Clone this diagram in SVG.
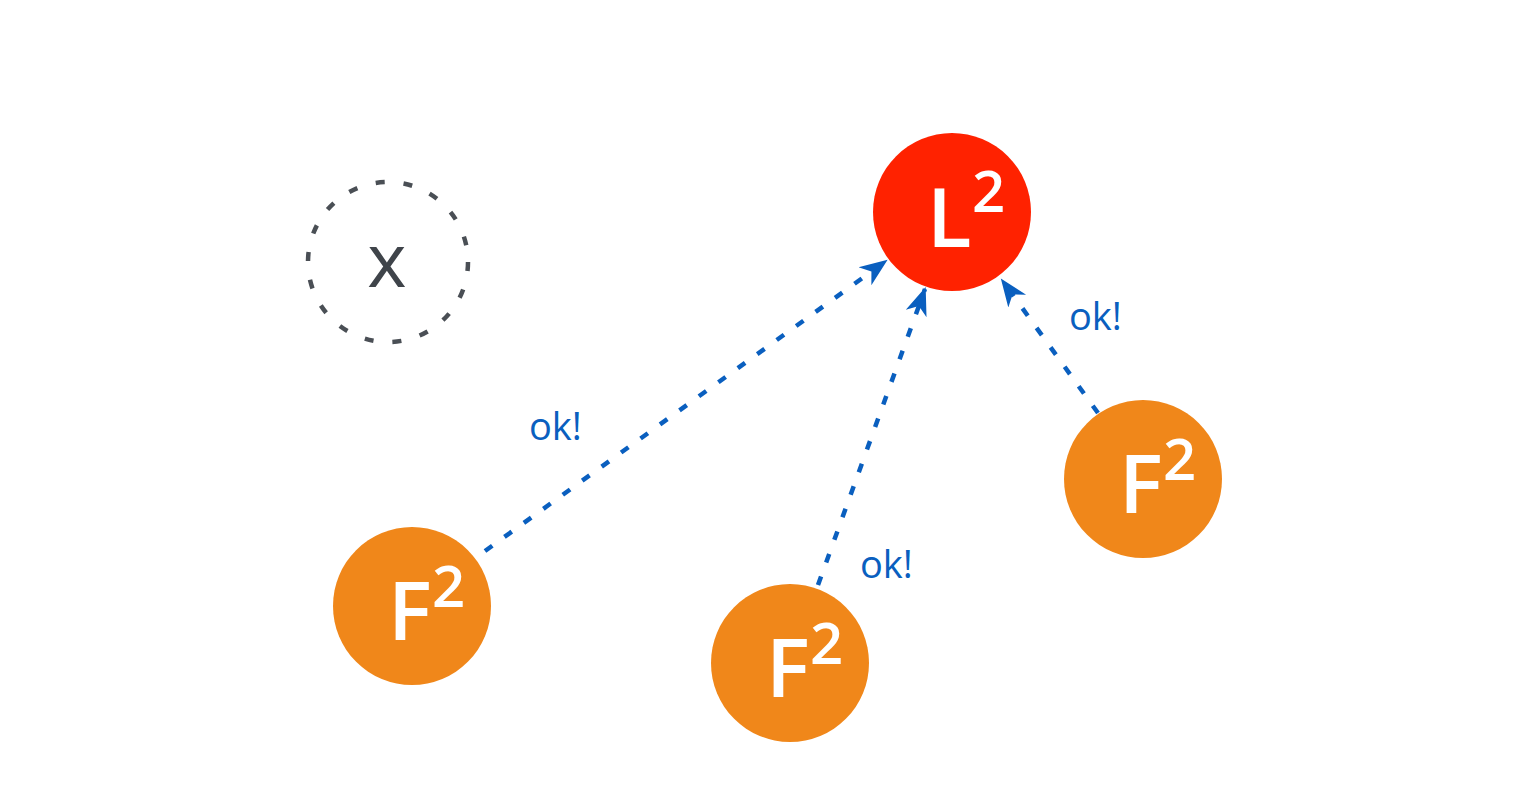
<svg xmlns="http://www.w3.org/2000/svg" width="1526" height="812" viewBox="0 0 1526 812">
<style>
.big{font-family:"Open Sans","Liberation Sans",sans-serif;fill:#fff;font-size:82px;font-weight:600}
.sup{font-family:"Open Sans","Liberation Sans",sans-serif;fill:#fff;font-size:58px;font-weight:600}
.lbl{font-family:"Open Sans","Liberation Sans",sans-serif;fill:#0a5fbf;font-size:38px;font-weight:500}
.f{fill:#f0871a}
.edge{stroke:#0a5fbf;stroke-width:4.5;stroke-dasharray:9 15;fill:none;marker-end:url(#ah)}
</style>
<defs>
<marker id="ah" markerUnits="userSpaceOnUse" markerWidth="30" markerHeight="24" viewBox="0 0 30 24" refX="26" refY="12" orient="auto">
<path d="M0,1 L28,12 L0,23 L8,12 z" fill="#0a5fbf"/>
</marker>
</defs>
<rect width="1526" height="812" fill="#fff"/>
<g id="connectors">
<line class="edge" x1="485" y1="551" x2="886" y2="261"/>
<line class="edge" x1="818" y1="585" x2="925" y2="289"/>
<line class="edge" x1="1098" y1="413" x2="1002" y2="280"/>
<text class="lbl" x="529" y="440">ok!</text>
<text class="lbl" x="860" y="578">ok!</text>
<text class="lbl" x="1069" y="330">ok!</text>
</g>
<g id="x">
<circle cx="388" cy="262" r="80" fill="none" stroke="#4a4f55" stroke-width="4.5" stroke-dasharray="9 19"/>
<text x="387" y="287" text-anchor="middle" font-family="Open Sans, Liberation Sans, sans-serif" font-size="75" font-weight="500" fill="#3f444a">x</text>
</g>
<g id="leader">
<circle cx="952" cy="212" r="79" fill="#ff2200"/>
<text class="big" x="927" y="247">L</text>
<text class="sup" x="972" y="212">2</text>
</g>
<g id="f1">
<circle class="f" cx="412" cy="606" r="79"/>
<text class="big" x="388" y="640">F</text>
<text class="sup" x="432" y="607">2</text>
</g>
<g id="f2">
<circle class="f" cx="790" cy="663" r="79"/>
<text class="big" x="766" y="697">F</text>
<text class="sup" x="810" y="664">2</text>
</g>
<g id="f3">
<circle class="f" cx="1143" cy="479" r="79"/>
<text class="big" x="1119" y="513">F</text>
<text class="sup" x="1163" y="480">2</text>
</g>
</svg>
